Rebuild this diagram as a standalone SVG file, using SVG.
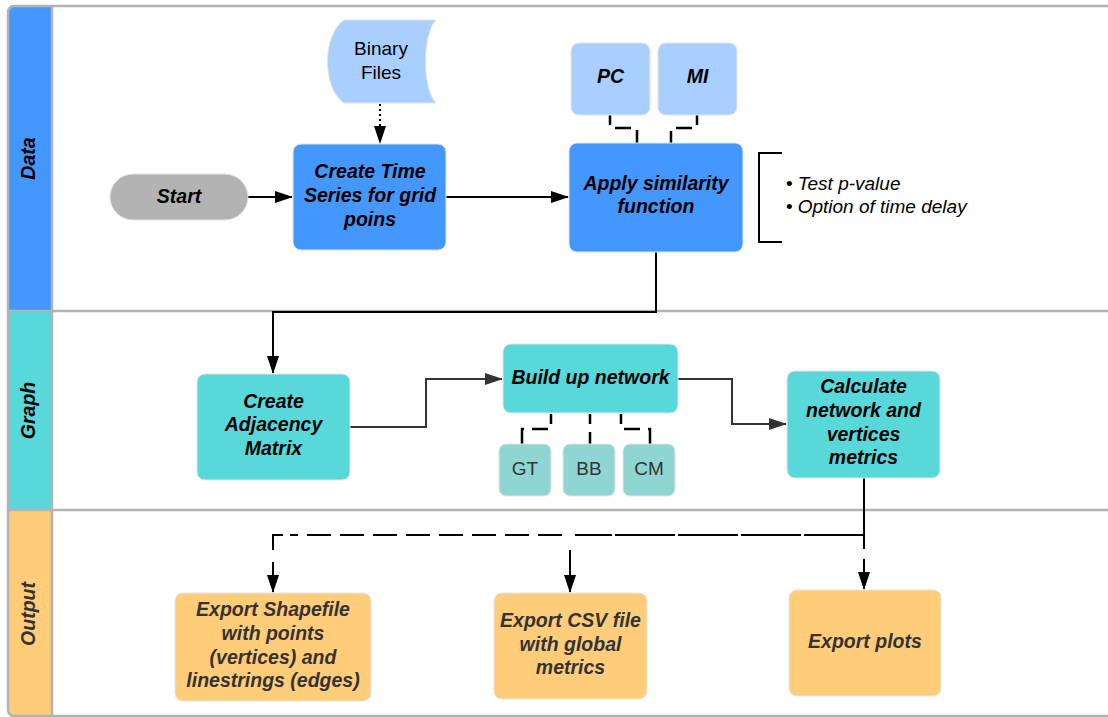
<svg xmlns="http://www.w3.org/2000/svg" width="1108" height="717" viewBox="0 0 1108 717">
  <style>
    text { font-family: "Liberation Sans", Arial, sans-serif; }
    .lane-label { font-size: 19.5px; font-weight: bold; font-style: italic; text-anchor: middle; }
    .bi { font-size: 19.5px; font-weight: bold; font-style: italic; text-anchor: middle; fill: #000; }
    .bi-out { font-size: 19.5px; font-weight: bold; font-style: italic; text-anchor: middle; fill: #333; }
    .reg { font-size: 19px; text-anchor: middle; fill: #000; }
    .reg-dark { font-size: 19px; text-anchor: middle; fill: #333; }
    .note { font-size: 19px; fill: #000; }
    .frame { fill: none; stroke: #b3b3b3; stroke-width: 2.5; }
    .divider { stroke: #b3b3b3; stroke-width: 2.5; }
    .node { stroke: #e4e4e4; stroke-width: 1; }
    .blue { fill: #4497ff; }
    .lightblue { fill: #a8cfff; }
    .teal { fill: #58d8d8; }
    .lightteal { fill: #8fd6d3; }
    .orange { fill: #ffcc7a; }
    .grey { fill: #b3b3b3; }
    .flow { fill: none; stroke: #000; stroke-width: 2; }
    .flow-dark { fill: none; stroke: #333; stroke-width: 2; }
    .link { fill: none; stroke: #000; stroke-width: 2.5; stroke-dasharray: 10 8 16 8 20; }
  </style>
  <defs>
    <marker id="arrow" viewBox="0 0 18 12" refX="17" refY="6" markerWidth="18" markerHeight="12" markerUnits="userSpaceOnUse" orient="auto">
      <path d="M0,0 L18,6 L0,12 Z" fill="#000"/>
    </marker>
    <marker id="arrow-dark" viewBox="0 0 18 12" refX="17" refY="6" markerWidth="18" markerHeight="12" markerUnits="userSpaceOnUse" orient="auto">
      <path d="M0,0 L18,6 L0,12 Z" fill="#333"/>
    </marker>
  </defs>

  <!-- swimlane frame -->
  <g id="lanes">
    <path d="M8,311 V12 Q8,6 14,6 H52 V311 Z" fill="#4497ff"/>
    <rect x="8" y="311" width="44" height="199" fill="#58d8d8"/>
    <path d="M8,510 H52 V716 H14 Q8,716 8,710 Z" fill="#ffcc7a"/>
    <rect class="frame" x="8" y="6" width="1110" height="710" rx="6"/>
    <line class="divider" x1="52" y1="6" x2="52" y2="716"/>
    <line class="divider" x1="8" y1="311" x2="1108" y2="311"/>
    <line class="divider" x1="8" y1="510" x2="1108" y2="510"/>
    <text class="lane-label" transform="translate(35,158.5) rotate(-90)" fill="#000">Data</text>
    <text class="lane-label" transform="translate(35,410.5) rotate(-90)" fill="#000">Graph</text>
    <text class="lane-label" transform="translate(35,614) rotate(-90)" fill="#333">Output</text>
  </g>

  <!-- connectors -->
  <g id="connectors">
    <line class="flow" x1="248" y1="197" x2="292" y2="197" marker-end="url(#arrow)"/>
    <line class="flow" x1="380" y1="104" x2="380" y2="143" stroke-dasharray="2 3" marker-end="url(#arrow)"/>
    <line class="flow" x1="446" y1="197" x2="568" y2="197" marker-end="url(#arrow)"/>
    <path class="link" d="M610,115 V128 H637 V143"/>
    <path class="link" d="M697,115 V128 H671 V143"/>
    <path class="flow" d="M656,252 V312 H273 V373" marker-end="url(#arrow)"/>
    <path class="flow-dark" d="M350,427 H426 V379 H502" marker-end="url(#arrow-dark)"/>
    <path class="flow-dark" d="M678,379 H732 V424 H786" marker-end="url(#arrow-dark)"/>
    <path class="link" d="M551,414 V429 H522 V444"/>
    <path class="link" d="M590,414 V444"/>
    <path class="link" d="M621,414 V429 H650 V444"/>
    <!-- outputs fan-out -->
    <line class="flow" x1="864" y1="478" x2="864" y2="549"/>
    <line class="flow" x1="864" y1="559" x2="864" y2="589" marker-end="url(#arrow)"/>
    <line class="flow" x1="864" y1="535" x2="575" y2="535" stroke-dasharray="60 3"/>
    <line class="flow" x1="570" y1="550" x2="570" y2="592" marker-end="url(#arrow)"/>
    <line class="flow" x1="562" y1="535" x2="290" y2="535" stroke-dasharray="24 9"/>
    <path class="flow" d="M283,535 H273 V550"/>
    <line class="flow" x1="273" y1="562" x2="273" y2="592" marker-end="url(#arrow)"/>
  </g>

  <!-- nodes -->
  <g id="start">
    <rect class="node grey" x="110" y="174" width="138" height="46" rx="23"/>
    <text class="bi" x="179" y="203">Start</text>
  </g>
  <g id="binary-files">
    <path class="node lightblue" d="M344,20 H436 C422,35 422,88 436,103 H344 C322,88 322,35 344,20 Z"/>
    <text class="reg" x="381" y="55">Binary</text>
    <text class="reg" x="381" y="79">Files</text>
  </g>
  <g id="create-time-series">
    <rect class="node blue" x="293" y="144" width="153" height="106" rx="8"/>
    <text class="bi" x="370" y="178">Create Time</text>
    <text class="bi" x="370" y="202">Series for grid</text>
    <text class="bi" x="370" y="226">poins</text>
  </g>
  <g id="pc">
    <rect class="node lightblue" x="571" y="43" width="79" height="72" rx="8"/>
    <text class="bi" x="610.5" y="83">PC</text>
  </g>
  <g id="mi">
    <rect class="node lightblue" x="658" y="43" width="79" height="72" rx="8"/>
    <text class="bi" x="697.5" y="83">MI</text>
  </g>
  <g id="apply-similarity">
    <rect class="node blue" x="569" y="143" width="174" height="109" rx="8"/>
    <text class="bi" x="656" y="190">Apply similarity</text>
    <text class="bi" x="656" y="213">function</text>
  </g>
  <g id="similarity-notes">
    <path d="M782,153 H759 V242 H782" fill="none" stroke="#000" stroke-width="2"/>
    <text class="note" x="786" y="190"><tspan>•</tspan><tspan font-style="italic" dx="5">Test p-value</tspan></text>
    <text class="note" x="786" y="213"><tspan>•</tspan><tspan font-style="italic" dx="5">Option of time delay</tspan></text>
  </g>
  <g id="create-adjacency">
    <rect class="node teal" x="197" y="374" width="153" height="106" rx="8"/>
    <text class="bi" x="273.5" y="408">Create</text>
    <text class="bi" x="273.5" y="431">Adjacency</text>
    <text class="bi" x="273.5" y="455">Matrix</text>
  </g>
  <g id="build-network">
    <rect class="node teal" x="503" y="344" width="175" height="69" rx="8"/>
    <text class="bi" x="590.5" y="384">Build up network</text>
  </g>
  <g id="gt">
    <rect class="node lightteal" x="499" y="444" width="52" height="52" rx="7"/>
    <text class="reg-dark" x="525" y="475">GT</text>
  </g>
  <g id="bb">
    <rect class="node lightteal" x="563" y="444" width="52" height="52" rx="7"/>
    <text class="reg-dark" x="589" y="475">BB</text>
  </g>
  <g id="cm">
    <rect class="node lightteal" x="623" y="444" width="52" height="52" rx="7"/>
    <text class="reg-dark" x="649" y="475">CM</text>
  </g>
  <g id="calculate-metrics">
    <rect class="node teal" x="787" y="371" width="153" height="107" rx="8"/>
    <text class="bi" x="863.5" y="393">Calculate</text>
    <text class="bi" x="863.5" y="417">network and</text>
    <text class="bi" x="863.5" y="441">vertices</text>
    <text class="bi" x="863.5" y="464">metrics</text>
  </g>
  <g id="export-shapefile">
    <rect class="node orange" x="175" y="593" width="196" height="108" rx="8"/>
    <text class="bi-out" x="273" y="616">Export Shapefile</text>
    <text class="bi-out" x="273" y="640">with points</text>
    <text class="bi-out" x="273" y="664">(vertices) and</text>
    <text class="bi-out" x="273" y="687">linestrings (edges)</text>
  </g>
  <g id="export-csv">
    <rect class="node orange" x="494" y="593" width="153" height="106" rx="8"/>
    <text class="bi-out" x="570.5" y="627">Export CSV file</text>
    <text class="bi-out" x="570.5" y="651">with global</text>
    <text class="bi-out" x="570.5" y="674">metrics</text>
  </g>
  <g id="export-plots">
    <rect class="node orange" x="789" y="590" width="152" height="106" rx="8"/>
    <text class="bi-out" x="865" y="648">Export plots</text>
  </g>
</svg>
